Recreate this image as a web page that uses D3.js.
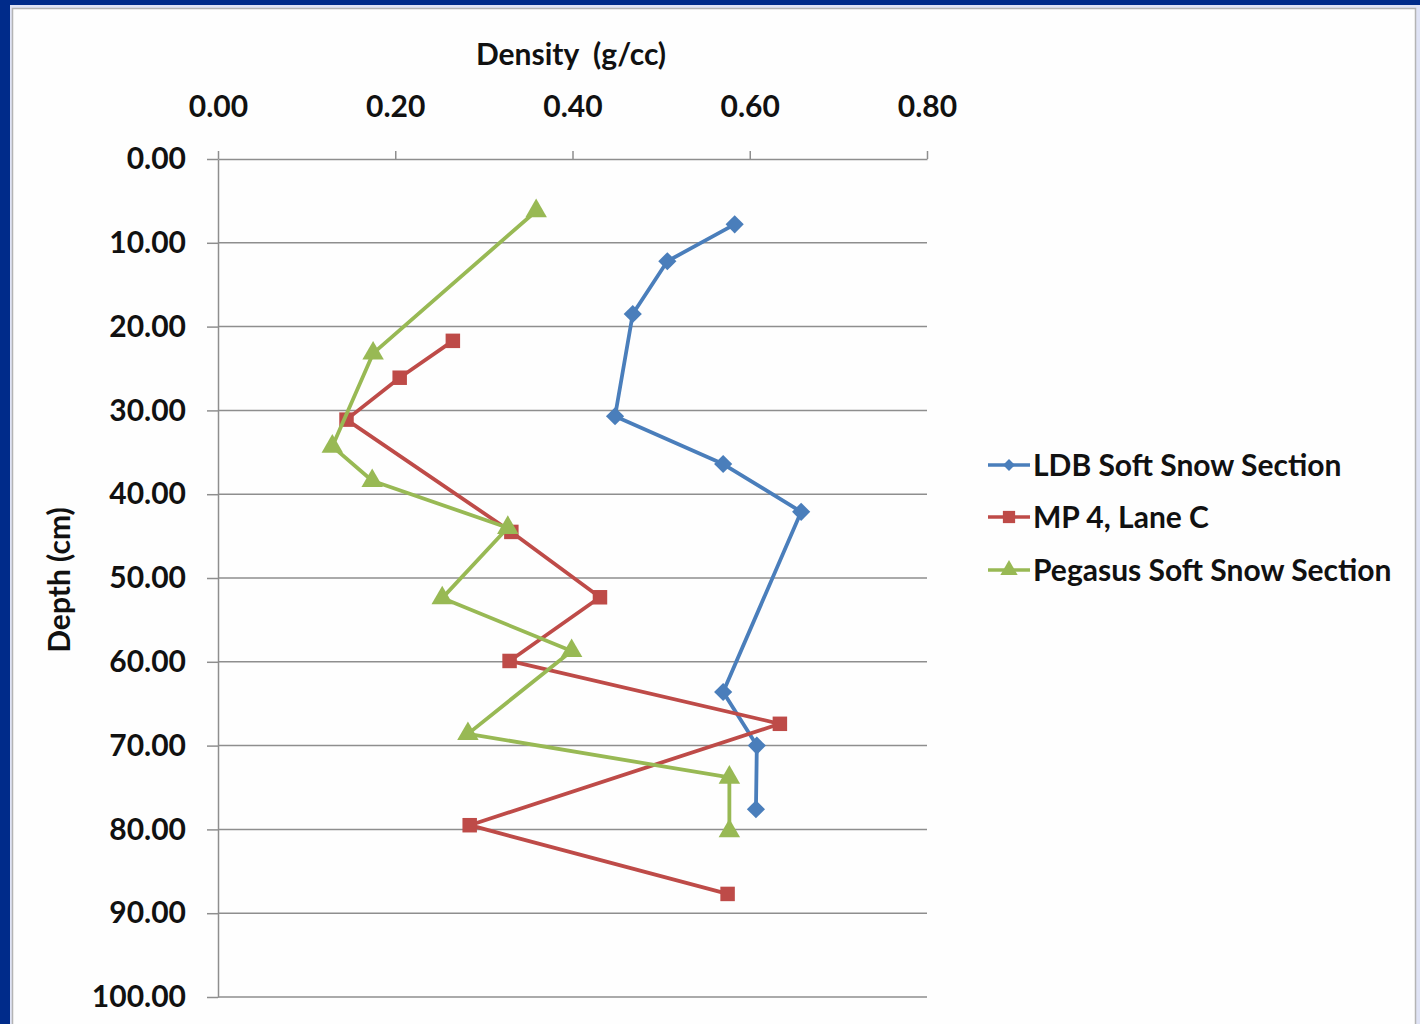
<!DOCTYPE html>
<html>
<head>
<meta charset="utf-8">
<script src="https://cdn.jsdelivr.net/npm/d3@7"></script>
<style>
  html, body { margin: 0; padding: 0; background: #002b8a; }
  svg { display: block; }
  text { font-family: Lato, "Open Sans", sans-serif; font-weight: bold; fill: #111; }
</style>
</head>
<body>
<script>
// Snow density profiles: density (g/cc) against depth (cm)
const densityTicks = [0, 0.2, 0.4, 0.6, 0.8];
const depthTicks = [0, 10, 20, 30, 40, 50, 60, 70, 80, 90, 100];

const seriesNames = ["LDB Soft Snow Section", "MP 4, Lane C", "Pegasus Soft Snow Section"];
const seriesColors = ["#4a7ebb", "#be4b48", "#98b954"];
const seriesMarkers = ["diamond", "square", "triangle"];

const ldbDepth   = [7.8, 12.2, 18.5, 30.7, 36.4, 42.1, 63.6, 70.0, 77.6];
const ldbDensity = [0.583, 0.507, 0.468, 0.448, 0.570, 0.658, 0.570, 0.608, 0.607];

const mpDepth   = [21.7, 26.1, 31.1, 44.5, 52.3, 59.9, 67.4, 79.5, 87.7];
const mpDensity = [0.265, 0.205, 0.145, 0.331, 0.431, 0.329, 0.634, 0.284, 0.575];

const pegDepth   = [6.2, 23.2, 34.3, 38.4, 44.0, 52.4, 58.7, 68.6, 73.8, 80.2];
const pegDensity = [0.359, 0.175, 0.129, 0.174, 0.327, 0.253, 0.399, 0.282, 0.577, 0.577];

const W = 1420, H = 1024;
const svg = d3.select("body").append("svg").attr("width", W).attr("height", H);

// slide background and white chart panel
svg.append("rect").attr("width", W).attr("height", H).attr("fill", "#002b8a");
svg.append("rect").attr("x", 10).attr("y", 5).attr("width", 1410).attr("height", 1030)
  .attr("fill", "#dfe3f5");
svg.append("rect").attr("x", 12.5).attr("y", 8.5).attr("width", 1403).attr("height", 1030)
  .attr("fill", "#fefefe").attr("stroke", "#b4b4b4").attr("stroke-width", 1.5);

const x = d3.scaleLinear().domain([0, 0.8]).range([218, 927]);
const y = d3.scaleLinear().domain([0, 100]).range([159, 997]);

// horizontal gridlines
svg.append("g").selectAll("line").data(depthTicks.filter(d => d > 0)).join("line")
  .attr("x1", x(0)).attr("x2", x(0.8))
  .attr("y1", d => y(d)).attr("y2", d => y(d))
  .attr("stroke", "#8e8e8e").attr("stroke-width", 1.5);

// top density axis
const xAxis = svg.append("g").attr("transform", `translate(0,${y(0)})`)
  .call(d3.axisTop(x).tickValues(densityTicks).tickFormat(d3.format(".2f"))
    .tickSize(8).tickSizeOuter(0).tickPadding(34));
xAxis.select(".domain").attr("stroke", "#8e8e8e").attr("stroke-width", 1.5);
xAxis.selectAll(".tick line").attr("stroke", "#8e8e8e").attr("stroke-width", 1.5);
xAxis.selectAll(".tick text").attr("font-size", 30).attr("font-family", "Lato").attr("font-weight", "bold").attr("fill", "#111");

// left depth axis
const yAxis = svg.append("g").attr("transform", `translate(${x(0)},0)`)
  .call(d3.axisLeft(y).tickValues(depthTicks).tickFormat(d3.format(".2f"))
    .tickSize(11).tickSizeOuter(0).tickPadding(21));
yAxis.select(".domain").attr("stroke", "#8e8e8e").attr("stroke-width", 1.5);
yAxis.selectAll(".tick line").attr("stroke", "#8e8e8e").attr("stroke-width", 1.5);
yAxis.selectAll(".tick text").attr("font-size", 30).attr("font-family", "Lato").attr("font-weight", "bold").attr("fill", "#111");

// axis titles
svg.append("text").attr("x", 571).attr("y", 65).attr("text-anchor", "middle")
  .attr("font-size", 30).attr("xml:space", "preserve").text("Density  (g/cc)");
svg.append("text").attr("transform", "translate(70,580) rotate(-90)")
  .attr("text-anchor", "middle").attr("font-size", 30).text("Depth (cm)");

// marker shapes; the diamond is a square turned 45 degrees
const markerShape = (type, size) => ({
  path: d3.symbol().type(type === "triangle" ? d3.symbolTriangle : d3.symbolSquare).size(size)(),
  rot: type === "diamond" ? 45 : 0
});
const chartMarkers = {
  diamond: markerShape("diamond", 165),
  square: markerShape("square", 210),
  triangle: markerShape("triangle", 200)
};
const legendMarkers = {
  diamond: markerShape("diamond", 70),
  square: markerShape("square", 150),
  triangle: markerShape("triangle", 130)
};

const series = [
  { depth: ldbDepth, density: ldbDensity },
  { depth: mpDepth, density: mpDensity },
  { depth: pegDepth, density: pegDensity }
];

const line = d3.line().x(d => x(d.v)).y(d => y(d.d));

series.forEach((s, i) => {
  const pts = s.depth.map((d, k) => ({ d, v: s.density[k] }));
  const m = chartMarkers[seriesMarkers[i]];
  const g = svg.append("g");
  g.append("path").datum(pts).attr("d", line)
    .attr("fill", "none").attr("stroke", seriesColors[i]).attr("stroke-width", 3.8)
    .attr("stroke-linejoin", "round");
  g.selectAll("path.m").data(pts).join("path").attr("class", "m")
    .attr("d", m.path)
    .attr("transform", d => `translate(${x(d.v)},${y(d.d)}) rotate(${m.rot})`)
    .attr("fill", seriesColors[i]);
});

// legend
const legendY = [465, 517, 570];
seriesNames.forEach((name, i) => {
  const m = legendMarkers[seriesMarkers[i]];
  const g = svg.append("g").attr("transform", `translate(0,${legendY[i]})`);
  g.append("line").attr("x1", 988).attr("x2", 1030).attr("y1", 0).attr("y2", 0)
    .attr("stroke", seriesColors[i]).attr("stroke-width", 3.5);
  g.append("path").attr("d", m.path)
    .attr("transform", `translate(1009,0) rotate(${m.rot})`).attr("fill", seriesColors[i]);
  g.append("text").attr("x", 1033).attr("y", 0).attr("dy", "0.35em")
    .attr("font-size", 30).text(name);
});
</script>
</body>
</html>
